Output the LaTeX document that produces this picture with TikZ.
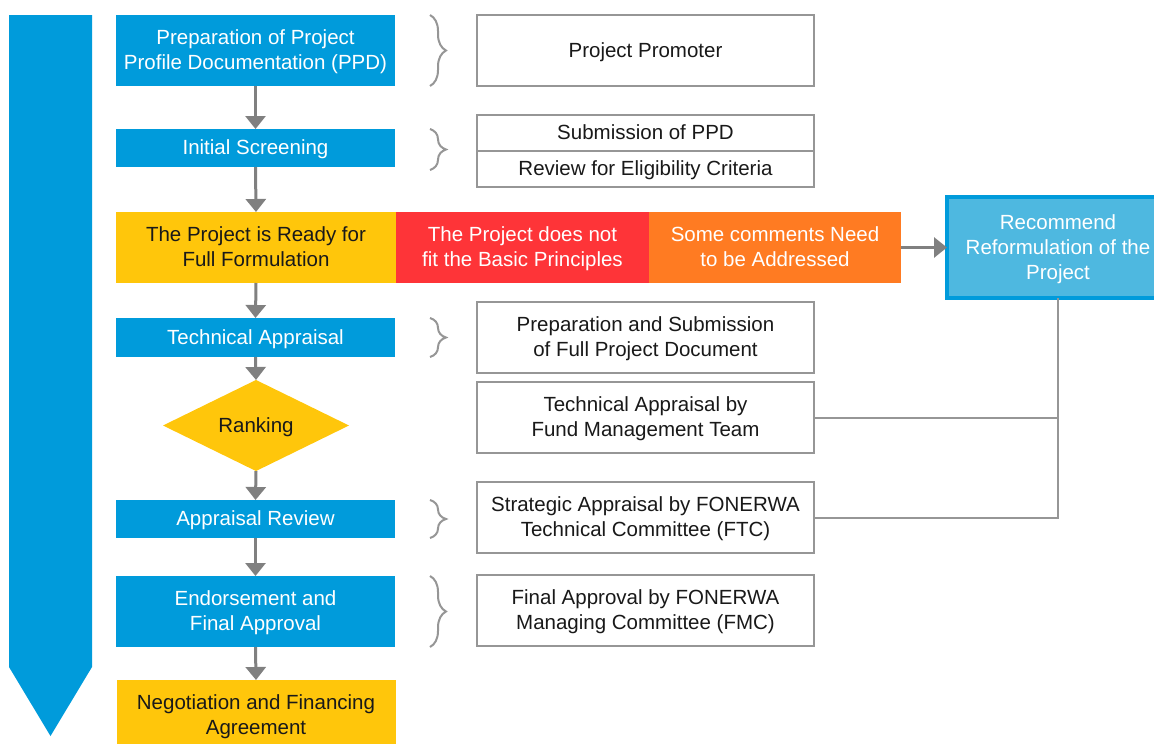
\documentclass[tikz,border=0pt]{standalone}
\usepackage{fontspec}
\setmainfont{Liberation Sans}
\usepackage{xcolor}
\usepackage{tikz}
\usetikzlibrary{shapes,arrows.meta,positioning,calc,decorations.pathreplacing}

\definecolor{stageblue}{RGB}{0,155,219}
\definecolor{lightblue}{RGB}{78,184,224}
\definecolor{stageyellow}{RGB}{255,198,11}
\definecolor{stagered}{RGB}{254,52,56}
\definecolor{stageorange}{RGB}{255,123,34}
\definecolor{arrowgray}{RGB}{128,128,128}
\definecolor{boxgray}{RGB}{150,150,150}
\definecolor{textdark}{RGB}{25,25,25}

\begin{document}
\begin{tikzpicture}[x=1pt,y=-1pt,
    every node/.style={font=\fontsize{20.5}{25}\selectfont, align=center, inner sep=0pt, outer sep=0pt, text depth=1pt},
    stage/.style={fill=stageblue, text=white, minimum width=279pt},
    gold/.style={fill=stageyellow, text=textdark},
    note/.style={draw=boxgray, line width=2pt, fill=white, text=textdark, minimum width=337pt, minimum height=71pt},
    flow/.style={draw=arrowgray, line width=3pt, -{Triangle[length=13pt,width=20pt]}},
    link/.style={draw=boxgray, line width=2pt},
    brc/.style={draw=boxgray, line width=2pt, decorate, decoration={brace, amplitude=16pt}}]
    \useasboundingbox (0,0) rectangle (1154,744);

    % big arrow on the left
    \fill [stageblue] (9,15) -- (92,15) -- (92,667) -- (50.5,736) -- (9,667) -- cycle;

    % main stages
    \node [stage, minimum height=71pt] (ppd) at (255.5,50.5) {Preparation of Project\\Profile Documentation (PPD)};
    \node [stage, minimum height=38pt] (screen) at (255.5,148) {Initial Screening};
    \node [gold, minimum width=280pt, minimum height=71pt] (ready) at (256,247.5) {The Project is Ready for\\Full Formulation};
    \node [fill=stagered, text=white, minimum width=253pt, minimum height=71pt, right=0pt of ready] (nofit) {The Project does not\\fit the Basic Principles};
    \node [fill=stageorange, text=white, minimum width=252pt, minimum height=71pt, right=0pt of nofit] (comments) {Some comments Need\\to be Addressed};
    \node [fill=lightblue, draw=stageblue, line width=4pt, text=white, minimum width=222pt, minimum height=101pt] (recom) at (1058,247.5) {Recommend\\Reformulation of the\\Project};
    \node [stage, minimum height=39pt] (tech) at (255.5,337.5) {Technical Appraisal};
    \node [diamond, gold, minimum width=186pt, minimum height=65pt] (rank) at (256,425.5) {Ranking};
    \node [stage, minimum height=38pt] (review) at (255.5,519) {Appraisal Review};
    \node [stage, minimum height=71pt] (endorse) at (255.5,611.5) {Endorsement and\\Final Approval};
    \node [gold, minimum width=279pt, minimum height=71pt] (nego) at (256,715.5) {Negotiation and Financing\\Agreement};

    % who does what
    \node [note] (promoter) at (645.5,50.5) {Project Promoter};
    \node [note, minimum height=36pt] (submit) at (645.5,133) {Submission of PPD};
    \node [note, minimum height=36pt, below=0pt of submit] (elig) {Review for Eligibility Criteria};
    \node [note] (fullpd) at (645.5,337.5) {Preparation and Submission\\of Full Project Document};
    \node [note] (fmt) at (645.5,417.5) {Technical Appraisal by\\Fund Management Team};
    \node [note] (ftc) at (645.5,517.5) {Strategic Appraisal by FONERWA\\Technical Committee (FTC)};
    \node [note] (fmc) at (645.5,610.5) {Final Approval by FONERWA\\Managing Committee (FMC)};

    % braces
    \draw [brc] ([xshift=35pt]ppd.north east) -- ([xshift=35pt]ppd.south east);
    \draw [brc] ([xshift=35pt]screen.north east) -- ([xshift=35pt,yshift=-3pt]screen.south east);
    \draw [brc] ([xshift=35pt]tech.north east) -- ([xshift=35pt]tech.south east);
    \draw [brc] ([xshift=35pt]review.north east) -- ([xshift=35pt]review.south east);
    \draw [brc] ([xshift=35pt]endorse.north east) -- ([xshift=35pt]endorse.south east);

    % flow arrows
    \draw [flow] (ppd.south) -- (screen.north);
    \draw [flow] (screen.south) -- (ready.north);
    \draw [flow] (ready.south) -- (tech.north);
    \draw [flow] (tech.south) -- (rank.north);
    \draw [flow] (rank.south) -- (review.north);
    \draw [flow] (review.south) -- (endorse.north);
    \draw [flow] (endorse.south) -- (nego.north);
    \draw [flow] (comments.east) -- (recom.west);

    % back to reformulation
    \draw [link] (recom.south) |- (ftc.east);
    \draw [link] (fmt.east) -- (fmt.east -| recom.south);
\end{tikzpicture}
\end{document}
